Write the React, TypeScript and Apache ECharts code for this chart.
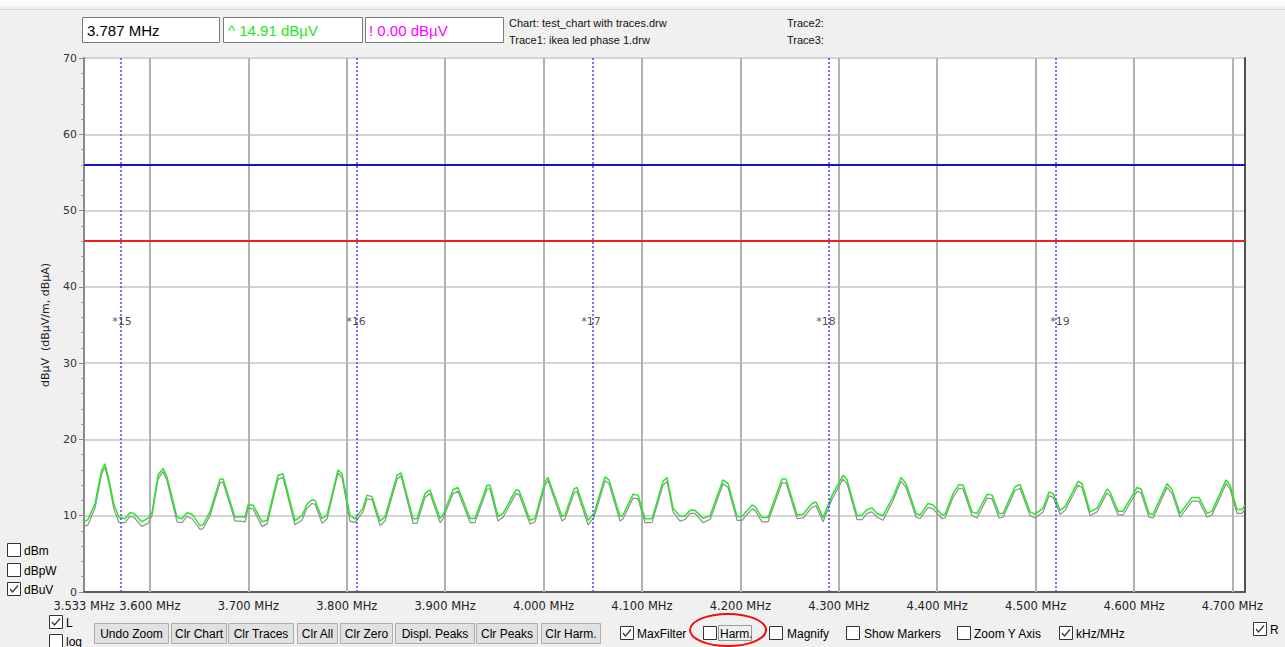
import React, { useEffect, useRef } from "react";
import * as echarts from "echarts";

// ---- data (frequency in MHz, level in dBµV) ----
const freqMHz = [
  3.533, 3.5371, 3.5442, 3.551, 3.5543, 3.5584, 3.5635, 3.5686, 3.5747, 3.5797,
  3.5838, 3.5916, 3.598, 3.6021, 3.6082, 3.6133, 3.6173, 3.6275, 3.6326, 3.6377,
  3.6428, 3.6509, 3.6539, 3.661, 3.6712, 3.6743, 3.6865, 3.6915, 3.6966, 3.6997,
  3.7047, 3.7139, 3.719, 3.7302, 3.7352, 3.7474, 3.7545, 3.7596, 3.7647, 3.7678,
  3.7749, 3.78, 3.7911, 3.7952, 3.8033, 3.8084, 3.8165, 3.8206, 3.8257, 3.8338,
  3.8389, 3.8511, 3.8552, 3.8674, 3.8714, 3.8795, 3.8846, 3.8948, 3.8978, 3.908,
  3.9131, 3.9253, 3.9303, 3.9426, 3.9456, 3.9537, 3.9588, 3.972, 3.9751, 3.9863,
  3.9913, 4.0015, 4.0045, 4.0188, 4.0218, 4.031, 4.034, 4.0452, 4.0513, 4.0625,
  4.0665, 4.0777, 4.0808, 4.0909, 4.096, 4.1031, 4.1102, 4.1214, 4.1255, 4.1316,
  4.1387, 4.1438, 4.1489, 4.1539, 4.162, 4.1692, 4.1824, 4.1875, 4.1966, 4.2017,
  4.2119, 4.2149, 4.222, 4.2281, 4.2423, 4.2464, 4.2576, 4.2637, 4.2728, 4.2769,
  4.284, 4.2932, 4.3043, 4.3084, 4.3186, 4.3237, 4.3287, 4.3338, 4.3389, 4.345,
  4.3552, 4.3633, 4.3684, 4.3786, 4.3826, 4.3907, 4.3958, 4.405, 4.408, 4.4161,
  4.4222, 4.4263, 4.4354, 4.4405, 4.4507, 4.4558, 4.4629, 4.4669, 4.4791, 4.4842,
  4.4944, 4.4995, 4.5076, 4.5137, 4.5178, 4.5249, 4.53, 4.5432, 4.5472, 4.5554,
  4.5625, 4.5727, 4.5757, 4.5838, 4.5889, 4.6031, 4.6072, 4.6153, 4.6194, 4.6336,
  4.6387, 4.6468, 4.659, 4.6661, 4.6743, 4.6793, 4.6936, 4.6976, 4.7047, 4.7098,
  4.7128,
];

// green trace (MaxFilter)
const traceMax = [
  9.2, 9.5, 11.6, 16.0, 16.8, 14.7, 11.4, 9.8, 9.6, 10.4,
  10.3, 9.2, 9.65, 10.4, 15.3, 16.2, 15.1, 9.8, 9.6, 10.4,
  10.2, 8.7, 8.8, 10.5, 14.8, 14.8, 9.8, 9.9, 9.8, 11.4,
  11.4, 9.2, 9.4, 15.3, 15.5, 9.35, 10.0, 11.5, 12.1, 12.0,
  9.6, 10.1, 16.0, 15.5, 10.0, 9.6, 11.0, 12.7, 12.5, 9.3,
  9.85, 15.3, 15.6, 9.6, 9.6, 12.9, 13.4, 9.65, 10.1, 13.4,
  13.7, 9.65, 9.65, 14.0, 14.0, 9.9, 10.3, 13.4, 13.3, 9.4,
  9.65, 14.5, 15.0, 9.9, 10.1, 13.5, 13.7, 9.4, 10.3, 15.1,
  14.7, 9.9, 10.1, 12.8, 12.7, 9.6, 9.6, 14.5, 15.0, 11.0,
  9.9, 10.0, 10.7, 10.7, 9.65, 10.0, 14.7, 14.2, 9.9, 9.9,
  11.4, 11.2, 9.75, 9.75, 14.8, 14.8, 10.1, 10.2, 11.6, 11.8,
  9.75, 12.7, 15.3, 14.7, 10.0, 10.1, 10.8, 11.0, 10.3, 10.0,
  12.5, 15.0, 14.2, 10.3, 10.1, 11.6, 11.4, 10.1, 10.2, 12.9,
  14.1, 14.0, 10.5, 10.3, 12.8, 12.7, 10.3, 10.3, 13.8, 14.1,
  10.5, 10.2, 11.0, 13.1, 12.9, 10.7, 11.2, 14.5, 14.2, 10.5,
  11.0, 13.5, 13.1, 10.6, 10.6, 13.7, 13.5, 10.3, 10.2, 14.2,
  13.4, 10.3, 12.4, 12.4, 10.3, 10.6, 14.7, 14.0, 10.8, 10.8,
  11.4,
];

// grey trace (Trace1: ikea led phase 1.drw)
const trace1 = [
  8.6, 8.8, 11.0, 15.5, 16.4, 14.2, 10.8, 9.1, 9.1, 9.9,
  9.8, 8.6, 9.0, 10.0, 14.8, 15.8, 14.6, 9.2, 9.1, 9.9,
  9.6, 8.2, 8.3, 10.0, 14.3, 14.4, 9.3, 9.3, 9.2, 11.0,
  10.9, 8.6, 8.9, 14.8, 15.0, 8.8, 9.4, 11.0, 11.6, 11.5,
  9.0, 9.6, 15.6, 15.0, 9.3, 9.1, 10.5, 12.2, 12.1, 8.7,
  9.3, 14.8, 15.2, 9.0, 9.0, 12.4, 12.9, 9.1, 9.6, 12.9,
  13.2, 9.1, 9.1, 13.5, 13.5, 9.3, 9.8, 12.9, 12.8, 8.9,
  9.2, 14.0, 14.6, 9.3, 9.6, 13.0, 13.2, 8.8, 9.8, 14.6,
  14.2, 9.3, 9.6, 12.3, 12.2, 9.1, 9.1, 14.0, 14.5, 10.5,
  9.3, 9.5, 10.3, 10.3, 9.1, 9.5, 14.2, 13.7, 9.4, 9.4,
  10.9, 10.7, 9.2, 9.2, 14.3, 14.3, 9.6, 9.7, 11.1, 11.3,
  9.2, 12.2, 14.8, 14.2, 9.5, 9.5, 10.3, 10.5, 9.8, 9.4,
  12.0, 14.5, 13.7, 9.8, 9.6, 11.1, 10.9, 9.6, 9.7, 12.4,
  13.6, 13.5, 10.0, 9.7, 12.3, 12.2, 9.7, 9.8, 13.3, 13.6,
  10.0, 9.7, 10.5, 12.6, 12.4, 10.2, 10.7, 14.0, 13.7, 10.0,
  10.5, 13.0, 12.6, 10.1, 10.1, 13.2, 13.0, 9.8, 9.7, 13.7,
  12.9, 9.8, 11.9, 11.9, 9.8, 10.1, 14.2, 13.5, 10.3, 10.3,
  10.9,
];

const xMin = 3.533;
const xMax = 4.7128;
const xLabelValues = [3.533, 3.6, 3.7, 3.8, 3.9, 4.0, 4.1, 4.2, 4.3, 4.4, 4.5, 4.6, 4.7];
const xGridFreqs = [3.6, 3.7, 3.8, 3.9, 4.0, 4.1, 4.2, 4.3, 4.4, 4.5, 4.6, 4.7];
const harmonicNumbers = [15, 16, 17, 18, 19];
const harmonicFreqs = [3.5697, 3.8075, 4.0462, 4.285, 4.5228];
const harmonicLabelLevel = 35.4;
const limitQuasiPeak = 56;
const limitAverage = 46;

const readoutFreq = "3.787 MHz";
const readoutLevel = "^ 14.91 dBµV";
const readoutDelta = "! 0.00 dBµV";
const chartFile = "Chart: test_chart with traces.drw";
const trace1File = "Trace1: ikea led phase 1.drw";
const trace2File = "Trace2:";
const trace3File = "Trace3:";

const buttons = ["Undo Zoom", "Clr Chart", "Clr Traces", "Clr All", "Clr Zero", "Displ. Peaks", "Clr Peaks", "Clr Harm."];
const buttonX = [94, 171, 228, 297, 340, 395, 476, 541];
const buttonW = [74, 55, 65, 40, 52, 79, 61, 59];

const UI_FONT = "'Liberation Sans', Arial, sans-serif";
const AX_FONT = "'DejaVu Sans', Verdana, sans-serif";
const MARKER_BLUE = "#4646ff";

function checkbox(x: number, y: number, checked: boolean, label?: string, lx?: number) {
  const children: any[] = [
    { type: "rect", shape: { x: x + 0.5, y: y + 0.5, width: 13, height: 13 }, style: { fill: "#fff", stroke: "#333", lineWidth: 1 } },
  ];
  if (checked) {
    children.push({
      type: "polyline",
      shape: { points: [[x + 3, y + 7], [x + 5.5, y + 10], [x + 11, y + 3.5]] },
      style: { fill: "none", stroke: "#333", lineWidth: 1.2 },
    });
  }
  if (label) {
    children.push({
      type: "text",
      style: { text: label, x: lx ?? x + 17, y: y + 7.5, fill: "#000", font: `12px ${UI_FONT}`, textVerticalAlign: "middle" },
    });
  }
  return { type: "group", children };
}

export default function App() {
  const ref = useRef<HTMLDivElement>(null);

  useEffect(() => {
    document.body.style.margin = "0";
    if (!ref.current) return;
    const chart = echarts.init(ref.current, null, { renderer: "svg" });

    const graphics: any[] = [
      { type: "rect", shape: { x: 0, y: 0, width: 1285, height: 6 }, style: { fill: "#fbfbfb" }, z: -1 },
      { type: "line", shape: { x1: 0, y1: 9.5, x2: 1285, y2: 9.5 }, style: { stroke: "#d6d6d6", lineWidth: 1 } },
      // readout boxes
      { type: "rect", shape: { x: 82.5, y: 17.5, width: 137, height: 25 }, style: { fill: "#fff", stroke: "#7a7a7a", lineWidth: 1 } },
      { type: "text", style: { text: readoutFreq, x: 87, y: 30, fill: "#000", font: `15px ${UI_FONT}`, textVerticalAlign: "middle" } },
      { type: "rect", shape: { x: 223.5, y: 17.5, width: 139, height: 25 }, style: { fill: "#fff", stroke: "#7a7a7a", lineWidth: 1 } },
      { type: "text", style: { text: readoutLevel, x: 228, y: 30, fill: "#1ee61e", font: `15px ${UI_FONT}`, textVerticalAlign: "middle" } },
      { type: "rect", shape: { x: 365.5, y: 17.5, width: 138, height: 25 }, style: { fill: "#fff", stroke: "#7a7a7a", lineWidth: 1 } },
      { type: "text", style: { text: readoutDelta, x: 369, y: 30, fill: "#ff00ff", font: `15px ${UI_FONT}`, textVerticalAlign: "middle" } },
      { type: "text", style: { text: chartFile, x: 509, y: 23, fill: "#111", font: `11px ${UI_FONT}`, textVerticalAlign: "middle" } },
      { type: "text", style: { text: trace1File, x: 509, y: 40, fill: "#111", font: `11px ${UI_FONT}`, textVerticalAlign: "middle" } },
      { type: "text", style: { text: trace2File, x: 787, y: 23, fill: "#111", font: `11px ${UI_FONT}`, textVerticalAlign: "middle" } },
      { type: "text", style: { text: trace3File, x: 787, y: 40, fill: "#111", font: `11px ${UI_FONT}`, textVerticalAlign: "middle" } },
      // left unit checkboxes
      checkbox(7, 543, false, "dBm", 24),
      checkbox(7, 563, false, "dBpW", 24),
      checkbox(7, 582, true, "dBuV", 24),
      checkbox(49, 615, true, "L", 66),
      checkbox(49, 634, false, "log", 66),
      // bottom option checkboxes
      checkbox(620, 626, true, "MaxFilter", 637),
      checkbox(703, 626, false),
      { type: "text", style: { text: "Harm.", x: 720, y: 633.5, fill: "#000", font: `12px ${UI_FONT}`, textVerticalAlign: "middle" } },
      { type: "rect", shape: { x: 718.5, y: 625.5, width: 33, height: 15 }, style: { fill: "none", stroke: "#444", lineWidth: 1, lineDash: [1, 1] } },
      { type: "ellipse", shape: { cx: 728, cy: 630, rx: 38, ry: 16 }, style: { fill: "none", stroke: "#e81010", lineWidth: 2 } },
      checkbox(769, 626, false, "Magnify", 787),
      checkbox(846, 626, false, "Show Markers", 864),
      checkbox(957, 626, false, "Zoom Y Axis", 974),
      checkbox(1059, 626, true, "kHz/MHz", 1076),
      checkbox(1253, 622, true, "R", 1270),
    ];

    buttons.forEach((b, i) => {
      graphics.push({
        type: "rect",
        shape: { x: buttonX[i] + 0.5, y: 623.5, width: buttonW[i], height: 20 },
        style: { fill: "#e1e1e1", stroke: "#adadad", lineWidth: 1 },
      });
      graphics.push({
        type: "text",
        style: {
          text: b, x: buttonX[i] + buttonW[i] / 2 + 0.5, y: 634, fill: "#000",
          font: `12px ${UI_FONT}`, textAlign: "center", textVerticalAlign: "middle",
        },
      });
    });

    const option: any = {
      animation: false,
      backgroundColor: "#f0f0f0",
      tooltip: { show: false },
      grid: {
        left: 84, right: 40, top: 58, bottom: 55,
        show: true, backgroundColor: "#ffffff", borderColor: "#a8a8a8", borderWidth: 1,
      },
      xAxis: {
        type: "value",
        min: xMin,
        max: xMax,
        axisLine: { show: true, lineStyle: { color: "#5a5a5a", width: 2 } },
        axisTick: { show: false },
        splitLine: { show: false },
        axisLabel: {
          customValues: xLabelValues,
          formatter: (v: number) => v.toFixed(3) + " MHz",
          color: "#222",
          fontFamily: AX_FONT,
          fontSize: 11.5,
          margin: 8,
          showMinLabel: true,
          showMaxLabel: true,
        },
      },
      yAxis: [
        {
          type: "value",
          min: 0,
          max: 70,
          interval: 10,
          name: "dBµV  (dBµV/m, dBµA)",
          nameLocation: "middle",
          nameGap: 33,
          nameRotate: 90,
          nameTextStyle: { color: "#222", fontFamily: AX_FONT, fontSize: 11 },
          axisLine: { show: true, lineStyle: { color: "#8a8a8a", width: 2 } },
          axisTick: { show: true, length: 5, lineStyle: { color: "#8a8a8a" } },
          minorTick: { show: true, splitNumber: 5, length: 3, lineStyle: { color: "#9a9a9a" } },
          splitLine: { show: true, lineStyle: { color: "#d4d4d4", width: 2 } },
          axisLabel: { color: "#333", fontFamily: AX_FONT, fontSize: 11, margin: 7 },
        },
        {
          type: "value",
          min: 0,
          max: 70,
          position: "right",
          axisLine: { show: true, lineStyle: { color: "#505050", width: 2 } },
          axisTick: { show: false },
          axisLabel: { show: false },
          splitLine: { show: false },
        },
      ],
      series: [
        {
          name: "Trace1",
          type: "line",
          data: freqMHz.map((f, i) => [f, trace1[i]]),
          symbol: "none",
          z: 3,
          color: "#8e8e8e",
          lineStyle: { color: "#8e8e8e", width: 1.2 },
          markLine: {
            silent: true,
            z: 1,
            symbol: ["none", "none"],
            label: { show: false },
            lineStyle: { color: "#b2b2b2", width: 2, type: "solid" },
            data: xGridFreqs.map((f) => ({ xAxis: f })),
          },
        },
        {
          name: "MaxFilter",
          type: "line",
          data: freqMHz.map((f, i) => [f, traceMax[i]]),
          symbol: "none",
          z: 4,
          color: "#28e628",
          lineStyle: { color: "#28e628", width: 1.5 },
          markLine: {
            silent: true,
            z: 5,
            symbol: ["none", "none"],
            label: { show: false },
            data: [
              { yAxis: limitQuasiPeak, lineStyle: { color: "#1414c4", width: 2, type: "solid" } },
              { yAxis: limitAverage, lineStyle: { color: "#f01e1e", width: 2, type: "solid" } },
              ...harmonicFreqs.map((f) => ({
                xAxis: f,
                lineStyle: { color: MARKER_BLUE, width: 1.5, type: [2, 2], opacity: 1 },
              })),
            ],
          },
        },
        {
          name: "Harmonics",
          type: "scatter",
          symbolSize: 0,
          z: 6,
          color: "#222",
          data: harmonicFreqs.map((f, i) => ({ value: [f, harmonicLabelLevel], name: "*" + harmonicNumbers[i] })),
          label: {
            show: true,
            position: "inside",
            offset: [2, 0],
            formatter: (p: any) => p.name,
            color: "#222",
            fontFamily: AX_FONT,
            fontSize: 11,
          },
        },
      ],
      graphic: graphics,
    };

    chart.setOption(option);
    return () => chart.dispose();
  }, []);

  return <div ref={ref} style={{ width: 1285, height: 647 }} />;
}
